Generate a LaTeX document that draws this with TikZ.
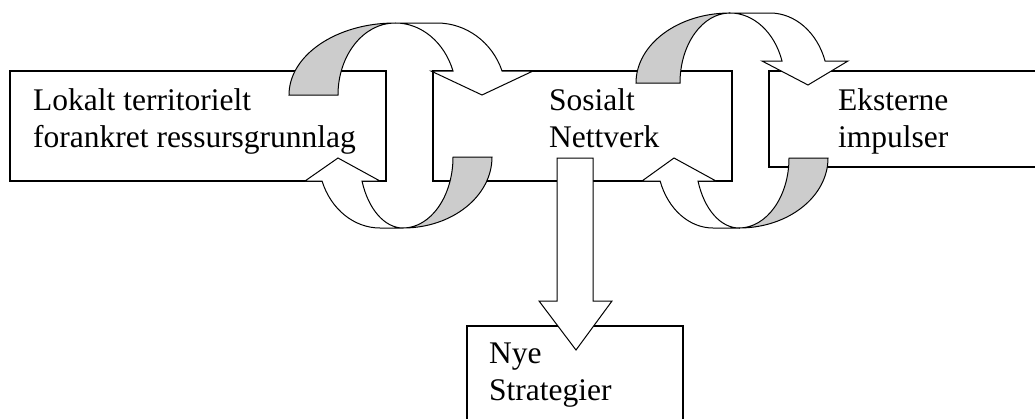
\documentclass[tikz,border=0pt]{standalone}
\usepackage{fontspec}
\setmainfont{Liberation Serif}
\usetikzlibrary{positioning}

\begin{document}
\begin{tikzpicture}[x=1pt,y=-1pt,line join=miter,
box/.style={draw,line width=1.1pt,fill=white,inner sep=0pt,outer sep=0pt,anchor=north west},
lbl/.style={align=left,inner sep=0pt,anchor=base west,font=\fontsize{31.5}{37}\selectfont},
band/.style={draw,line width=1pt,fill=white},
back/.style={band,fill=gray!40}]
\useasboundingbox (0,0) rectangle (1035,418);
\node[box,minimum width=376pt,minimum height=110pt] (lokal) at (10,71) {};
\node[box,minimum width=299pt,minimum height=110pt] (sosialt) at (433,71) {};
\node[box,minimum width=300pt,minimum height=96pt] (eksterne) at (769,71) {};
\node[box,minimum width=216pt,minimum height=120pt] (strategier) at (467,326) {};
\node[lbl] (lokaltxt) at ([xshift=23pt,yshift=-76pt]lokal.north west) {Lokalt territorielt\\forankret ressursgrunnlag};
\node[lbl] (sosialttxt) at ([xshift=116pt,yshift=-76pt]sosialt.north west) {Sosialt\\Nettverk};
\node[lbl] (eksternetxt) at ([xshift=69pt,yshift=-76pt]eksterne.north west) {Eksterne\\impulser};
\node[lbl] (strategiertxt) at ([xshift=22pt,yshift=-74pt]strategier.north west) {Nye\\Strategier};
% left pair
\draw[back] (289,95) arc[start angle=180,end angle=270,x radius=106,y radius=72] arc[start angle=270,end angle=180,x radius=57,y radius=72] -- cycle;
\draw[band] (395,23) -- (437,23) arc[start angle=270,end angle=340.53,x radius=69,y radius=72] -- (533,71) -- (482,95) -- (431,71) -- (453,71) arc[start angle=340.53,end angle=270,x radius=61,y radius=72] -- cycle;
\draw[back] (492,157) arc[start angle=0,end angle=90,x radius=89,y radius=71] arc[start angle=90,end angle=0,x radius=50,y radius=71] -- cycle;
\draw[band] (403,228) -- (380,228) arc[start angle=90,end angle=160.24,x radius=61.6,y radius=71] -- (305,181) -- (338,158) -- (380,181) -- (362,181) arc[start angle=160.24,end angle=90,x radius=43.6,y radius=71] -- cycle;
% right pair
\draw[back] (636,83) arc[start angle=180,end angle=270,x radius=94,y radius=70] arc[start angle=270,end angle=180,x radius=50,y radius=70] -- cycle;
\draw[band] (730,13) -- (770,13) arc[start angle=270,end angle=341.7,x radius=58,y radius=70] -- (848,61) -- (808,85) -- (762,61) -- (782,61) arc[start angle=341.7,end angle=270,x radius=54.8,y radius=70] -- cycle;
\draw[back] (828,158) arc[start angle=0,end angle=90,x radius=89,y radius=70] arc[start angle=90,end angle=0,x radius=50,y radius=70] -- cycle;
\draw[band] (739,228) -- (713,228) arc[start angle=90,end angle=160.8,x radius=56,y radius=70] -- (642,181) -- (674,158) -- (716,181) -- (698,181) arc[start angle=160.8,end angle=90,x radius=43.4,y radius=70] -- cycle;
% down
\draw[band] (557,158) -- (593,158) -- (593,301) -- (612,301) -- (576,350) -- (539,301) -- (557,301) -- cycle;
\end{tikzpicture}
\end{document}
